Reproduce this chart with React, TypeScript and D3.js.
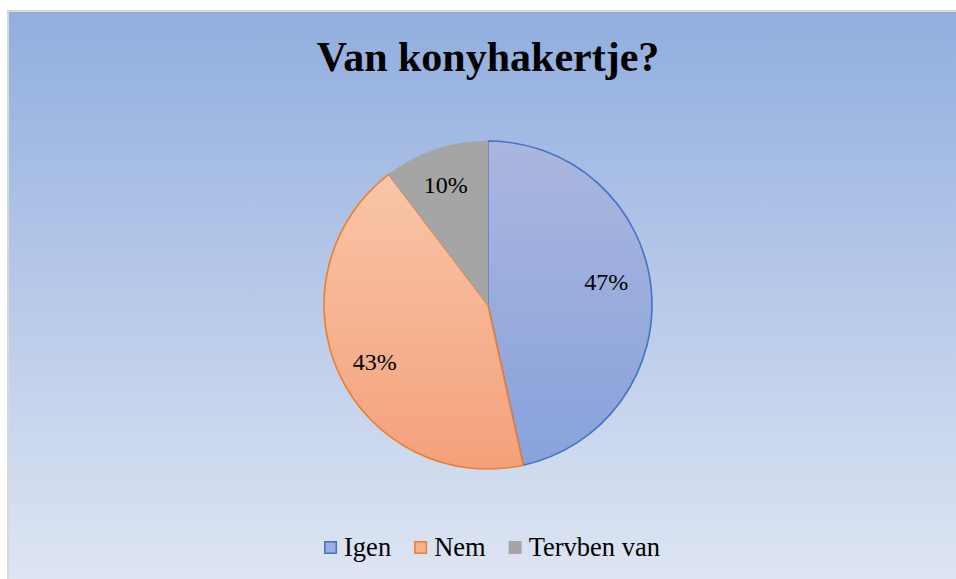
import * as d3 from "d3";

const W = 956;
const H = 579;

const categories = ["Igen", "Nem", "Tervben van"];
const counts = [27, 25, 6];
const percentLabels = ["47%", "43%", "10%"];

const fills = ["url(#gradIgen)", "url(#gradNem)", "#a5a5a5"];
const strokes = ["#4472c4", "#ed7d31", "#a5a5a5"];
const legendFills = ["#9bb0e0", "#f6b08f", "#a5a5a5"];

const cx = 488;
const cy = 305;
const radius = 164;

const serif = "Liberation Serif";

// measure legend text so items can be laid out like the original
const measure = (txt: string, font: string) => {
  const c = document.createElement("canvas").getContext("2d");
  if (!c) return txt.length * 12;
  c.font = font;
  return c.measureText(txt).width;
};

const App = () => {
  const data = categories.map((c, i) => ({ category: c, value: counts[i], label: percentLabels[i] }));

  const pie = d3
    .pie<{ category: string; value: number; label: string }>()
    .value((d) => d.value)
    .sort(null);
  const arcs = pie(data);

  const arc = d3.arc<d3.PieArcDatum<any>>().innerRadius(0).outerRadius(radius);
  const labelArc = d3.arc<d3.PieArcDatum<any>>().innerRadius(126).outerRadius(126);
  // small nudges, Excel's best-fit label placement is not exactly the centroid
  const nudge = [
    [-7, -9],
    [1, 4],
    [-2, -1],
  ];

  // legend layout
  const legendSize = 26.5;
  const legendFont = `${legendSize}px "${serif}"`;
  const box = 13;
  const boxGap = 7;
  const itemGap = 23;
  const widths = categories.map((c) => box + boxGap + measure(c, legendFont));
  const total = d3.sum(widths) + itemGap * (categories.length - 1);
  let lx = 492 - total / 2;
  const legendX = widths.map((w) => {
    const x = lx;
    lx += w + itemGap;
    return x;
  });

  return (
    <svg
      width={W}
      height={H}
      style={{ position: "absolute", left: 0, top: 0, fontFamily: serif }}
    >
      <defs>
        <linearGradient id="bg" x1="0" y1="0" x2="0" y2="1">
          <stop offset="0" stopColor="#91aedf" />
          <stop offset="1" stopColor="#dfe6f3" />
        </linearGradient>
        <linearGradient id="gradIgen" gradientUnits="userSpaceOnUse" x1="0" y1={-radius} x2="0" y2={radius}>
          <stop offset="0" stopColor="#abb6de" />
          <stop offset="1" stopColor="#87a2dc" />
        </linearGradient>
        <linearGradient id="gradNem" gradientUnits="userSpaceOnUse" x1="0" y1={-radius} x2="0" y2={radius}>
          <stop offset="0" stopColor="#f9c9ae" />
          <stop offset="1" stopColor="#f4a17a" />
        </linearGradient>
      </defs>

      <rect x={0} y={0} width={W} height={H} fill="#ffffff" />
      <rect x={8} y={11} width={W} height={H} fill="url(#bg)" stroke="#d9d9d9" strokeWidth={2} />

      <text
        x={488}
        y={71}
        textAnchor="middle"
        fontSize={42}
        fontWeight="bold"
        fill="#000"
        style={{ fontFamily: serif }}
      >
        Van konyhakertje?
      </text>

      <g transform={`translate(${cx},${cy})`}>
        {arcs.map((d, i) => (
          <path
            key={d.data.category}
            d={arc(d) || ""}
            fill={fills[i]}
            stroke={strokes[i]}
            strokeWidth={i === 2 ? 0.5 : 1.6}
            strokeLinejoin="round"
          />
        ))}
        {arcs.map((d, i) => {
          const [x, y] = labelArc.centroid(d);
          return (
            <text
              key={d.data.category + "-l"}
              x={x + nudge[i][0]}
              y={y + nudge[i][1]}
              textAnchor="middle"
              dominantBaseline="central"
              fontSize={24}
              fill="#000"
              style={{ fontFamily: serif }}
            >
              {d.data.label}
            </text>
          );
        })}
      </g>

      <g>
        {categories.map((c, i) => (
          <g key={c} transform={`translate(${legendX[i]},0)`}>
            <rect
              x={0.75}
              y={541.75}
              width={box - 1.5}
              height={box - 1.5}
              fill={legendFills[i]}
              stroke={strokes[i]}
              strokeWidth={1.5}
            />
            <text
              x={box + boxGap}
              y={556}
              fontSize={legendSize}
              fill="#000"
              style={{ fontFamily: serif }}
            >
              {c}
            </text>
          </g>
        ))}
      </g>
    </svg>
  );
};

export default App;
